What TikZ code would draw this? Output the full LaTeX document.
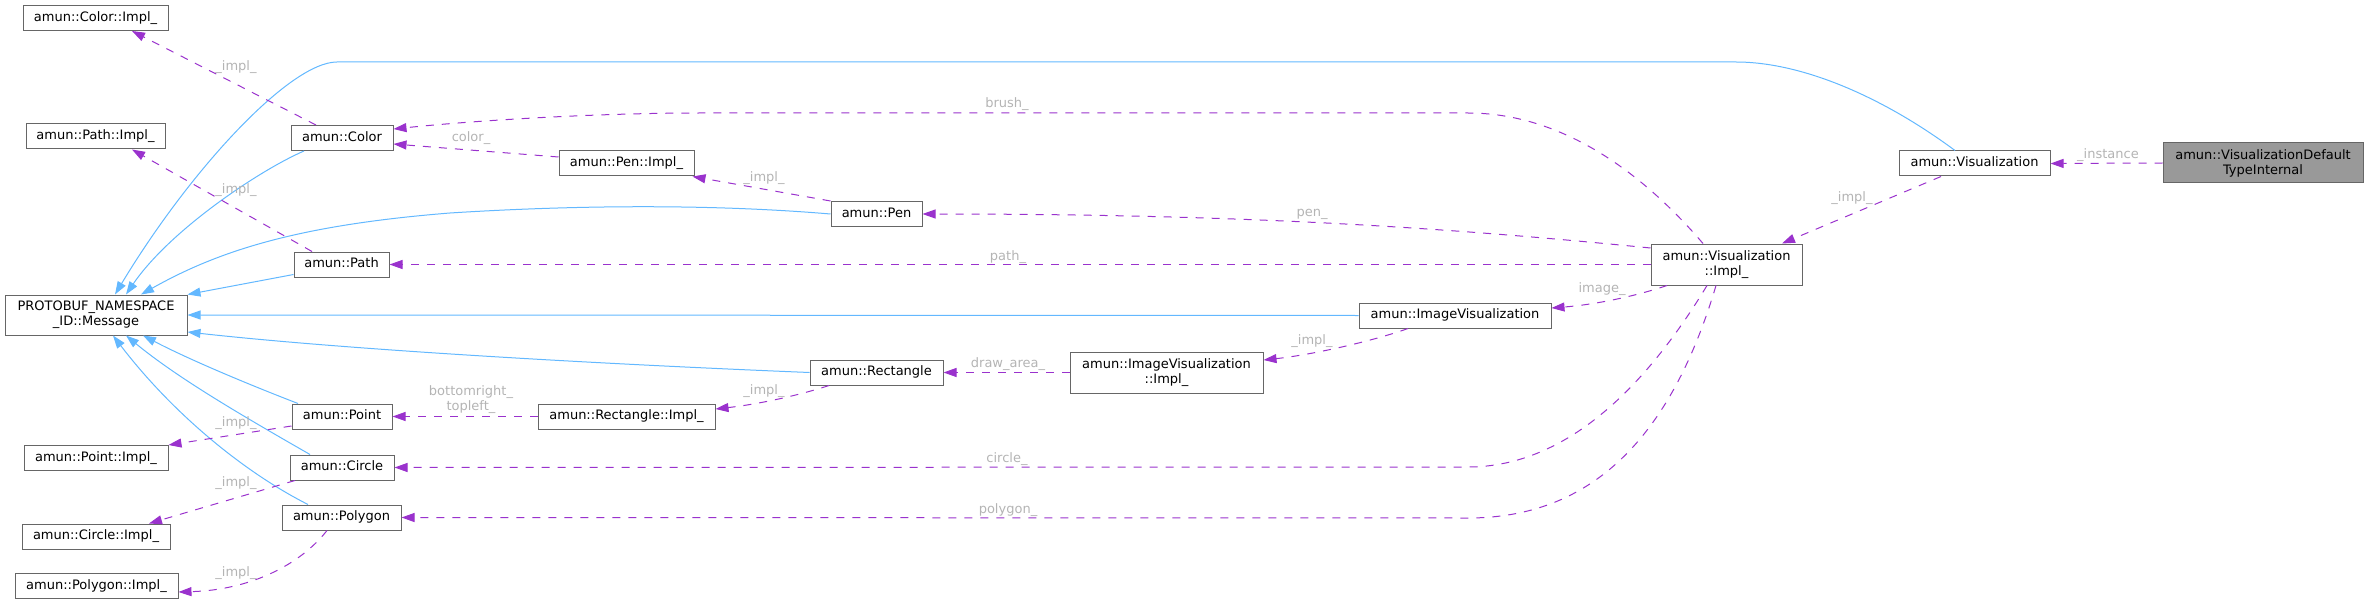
\documentclass[tikz,border=0pt]{standalone}
\usepackage{fontspec}
\setmainfont{DejaVu Sans}
\usetikzlibrary{arrows.meta}
\definecolor{boxgray}{HTML}{666666}
\definecolor{rootfill}{HTML}{999999}
\definecolor{inhblue}{HTML}{63B8FF}
\definecolor{usepurple}{HTML}{9A32CD}
\definecolor{labelgray}{HTML}{B4B4B4}
\tikzset{
  cls/.style={draw=boxgray, line width=1pt, fill=white, inner sep=0pt, minimum height=25pt,
    font=\fontsize{13}{15}\selectfont, text height=9.5pt, text depth=3pt},
  cls2/.style={draw=boxgray, line width=1pt, fill=white, inner sep=0pt, minimum height=41pt,
    font=\fontsize{13}{15}\selectfont, align=center},
  inh/.style={draw=inhblue, line width=1pt, -{Triangle[length=13pt,width=9pt,fill=inhblue]}},
  use/.style={draw=usepurple, line width=1pt, dash pattern=on 8pt off 8pt, -{Triangle[length=13pt,width=9pt,fill=usepurple]}},
  lbl/.style={text=labelgray, inner sep=0pt, font=\fontsize{13}{15}\selectfont, align=center}
}
\begin{document}
\begin{tikzpicture}[x=1pt,y=-1pt]
\useasboundingbox (0,0) rectangle (2368,604);
% nodes
\node[cls, minimum width=145pt] (cimpl) at (95.5,18) {amun::Color::Impl\_};
\node[cls, minimum width=139pt] (pimpl) at (95.5,136.5) {amun::Path::Impl\_};
\node[cls, minimum width=102pt] (color) at (342,138) {amun::Color};
\node[cls, minimum width=95pt] (path) at (341.5,264.5) {amun::Path};
\node[cls2, minimum width=182pt, minimum height=40pt] (proto) at (96,315) {PROTOBUF\_NAMESPACE\\\_ID::Message};
\node[cls, minimum width=100pt] (point) at (342,416.5) {amun::Point};
\node[cls, minimum width=144pt] (ptimpl) at (96,458) {amun::Point::Impl\_};
\node[cls, minimum width=104pt] (circle) at (342,467.5) {amun::Circle};
\node[cls, minimum width=148pt] (ciimpl) at (96,536.5) {amun::Circle::Impl\_};
\node[cls, minimum width=119pt] (polygon) at (341.5,517.5) {amun::Polygon};
\node[cls, minimum width=163pt] (poimpl) at (96.5,586) {amun::Polygon::Impl\_};
\node[cls, minimum width=135pt] (penimpl) at (626.5,163.5) {amun::Pen::Impl\_};
\node[cls, minimum width=91pt] (pen) at (876.5,214) {amun::Pen};
\node[cls, minimum width=177pt] (rectimpl) at (626.5,416.5) {amun::Rectangle::Impl\_};
\node[cls, minimum width=133pt] (rect) at (876.5,372.5) {amun::Rectangle};
\node[cls2, minimum width=193pt] (imgvimpl) at (1166.5,372.5) {amun::ImageVisualization\\::Impl\_};
\node[cls, minimum width=192pt] (imgv) at (1455,315.5) {amun::ImageVisualization};
\node[cls2, minimum width=151pt] (visimpl) at (1726.5,264.5) {amun::Visualization\\::Impl\_};
\node[cls, minimum width=151pt] (vis) at (1974.5,163.5) {amun::Visualization};
\node[cls2, minimum width=200pt, minimum height=40pt, fill=rootfill] (vdti) at (2263,163) {amun::VisualizationDefault\\TypeInternal};
% inheritance edges
\draw[inh] ([xshift=-19.5pt]vis.north) .. controls (1880,95) and (1800,62) .. (1736,62) -- (337,62) .. controls (290,62) and (190,170) .. ([xshift=19pt]proto.north);
\draw[inh] ([xshift=-38pt]color.south) .. controls (260,170) and (170,230) .. ([xshift=30pt]proto.north);
\draw[inh] (pen.west) .. controls (700,203) and (560,206) .. (450,213) .. controls (300,225) and (220,250) .. ([xshift=45pt]proto.north);
\draw[inh] ([yshift=-10pt]path.west) -- (proto.north east);
\draw[inh] (imgv.west) -- (proto.east);
\draw[inh] (rect.west) .. controls (600,364) and (350,350) .. ([yshift=-17pt]proto.east);
\draw[inh] ([xshift=-44pt]point.north) .. controls (250,385) and (190,360) .. ([xshift=47pt]proto.south);
\draw[inh] ([xshift=-32pt]circle.north) .. controls (250,420) and (180,380) .. ([xshift=30pt]proto.south);
\draw[inh] ([xshift=-33.5pt]polygon.north) .. controls (240,470) and (170,410) .. ([xshift=17pt]proto.south);
% usage edges
\draw[use] ([xshift=-26pt]color.north) -- ([xshift=36.5pt]cimpl.south);
\draw[use] ([xshift=-29.5pt]path.north) -- ([xshift=36.5pt]pimpl.south);
\draw[use] ([yshift=-9.5pt]point.west) -- (ptimpl.north east);
\draw[use] ([xshift=-47pt]circle.south) -- ([xshift=53pt]ciimpl.north);
\draw[use] ([xshift=-14.5pt]polygon.south) .. controls (300,565) and (250,590) .. ([yshift=-6pt]poimpl.east);
\draw[use] ([yshift=6.5pt]penimpl.west) -- ([yshift=-6pt]color.east);
\draw[use] (pen.north west) -- ([xshift=-2pt]penimpl.south east);
\draw[use] (rectimpl.west) -- (point.east);
\draw[use] ([xshift=-47.5pt]rect.south) .. controls (800,395) and (760,404) .. ([yshift=7.5pt]rectimpl.east);
\draw[use] (imgvimpl.west) -- (rect.east);
\draw[use] ([xshift=-47pt]imgv.south) .. controls (1370,342) and (1310,355) .. ([yshift=12.5pt]imgvimpl.east);
\draw[use] ([xshift=-23.5pt]visimpl.north) .. controls (1640,170) and (1560,113) .. (1468,113) -- (700,113) .. controls (600,113) and (480,120) .. ([yshift=9pt]color.east);
\draw[use] ([yshift=16.5pt]visimpl.west) .. controls (1450,228) and (1250,214) .. (pen.east);
\draw[use] (visimpl.west) -- (path.east);
\draw[use] ([xshift=-59.5pt]visimpl.south) .. controls (1630,298) and (1590,305) .. ([yshift=7.5pt]imgv.east);
\draw[use] ([xshift=-19.5pt]visimpl.south) .. controls (1650,380) and (1570,467) .. (1468,467) -- (circle.east);
\draw[use] ([xshift=-10.5pt]visimpl.south) .. controls (1670,440) and (1590,518) .. (1468,518) -- (polygon.east);
\draw[use] ([xshift=-33.5pt]vis.south) -- ([xshift=55.5pt]visimpl.north);
\draw[use] (vdti.west) -- (vis.east);
% labels
\node[lbl] (l1) at (236,67) {\_impl\_};
\node[lbl] (l2) at (236,190) {\_impl\_};
\node[lbl] (l3) at (236,423) {\_impl\_};
\node[lbl] (l4) at (236,483) {\_impl\_};
\node[lbl] (l5) at (236,573) {\_impl\_};
\node[lbl] (l6) at (471,138) {color\_};
\node[lbl] (l7) at (764,178) {\_impl\_};
\node[lbl] (l8) at (471,400) {bottomright\_\\topleft\_};
\node[lbl] (l9) at (764,391) {\_impl\_};
\node[lbl] (l10) at (1008,364) {draw\_area\_};
\node[lbl] (l11) at (1312,341) {\_impl\_};
\node[lbl] (l12) at (1007,104) {brush\_};
\node[lbl] (l13) at (1312,214) {pen\_};
\node[lbl] (l14) at (1008,257) {path\_};
\node[lbl] (l15) at (1602,289) {image\_};
\node[lbl] (l16) at (1007,459) {circle\_};
\node[lbl] (l17) at (1008,510) {polygon\_};
\node[lbl] (l18) at (1852,198) {\_impl\_};
\node[lbl] (l19) at (2108,155) {\_instance};
\end{tikzpicture}
\end{document}
